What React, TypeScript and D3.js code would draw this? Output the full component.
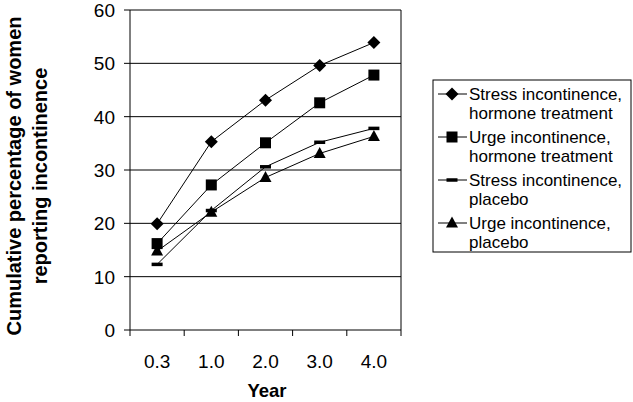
import React from 'react';
import * as d3 from 'd3';

const years = ['0.3', '1.0', '2.0', '3.0', '4.0'];
const stressHormone = [19.9, 35.3, 43.1, 49.6, 53.9];
const urgeHormone = [16.2, 27.2, 35.1, 42.6, 47.8];
const stressPlacebo = [12.3, 22.4, 30.6, 35.2, 37.8];
const urgePlacebo = [14.8, 22.1, 28.6, 33.1, 36.3];
const yTicks = [0, 10, 20, 30, 40, 50, 60];

type Marker = 'diamond' | 'square' | 'dash' | 'triangle';

const series: Array<{ label: [string, string]; values: number[]; marker: Marker }> = [
    { label: ['Stress incontinence,', 'hormone treatment'], values: stressHormone, marker: 'diamond' },
    { label: ['Urge incontinence,', 'hormone treatment'], values: urgeHormone, marker: 'square' },
    { label: ['Stress incontinence,', 'placebo'], values: stressPlacebo, marker: 'dash' },
    { label: ['Urge incontinence,', 'placebo'], values: urgePlacebo, marker: 'triangle' },
];

const FONT = '"Liberation Sans", Arial, sans-serif';

function MarkerShape({ type, x, y }: { type: Marker; x: number; y: number }) {
    if (type === 'diamond') {
        return <path d={`M${x},${y - 6.5}L${x + 6.5},${y}L${x},${y + 6.5}L${x - 6.5},${y}Z`} fill="#000" />;
    }
    if (type === 'square') {
        return <rect x={x - 5.5} y={y - 5.5} width={11} height={11} fill="#000" />;
    }
    if (type === 'dash') {
        return <rect x={x - 5.5} y={y - 1.75} width={11} height={3.5} fill="#000" />;
    }
    return <path d={`M${x},${y - 6.5}L${x + 6},${y + 4.5}L${x - 6},${y + 4.5}Z`} fill="#000" />;
}

export default function App() {
    const width = 633;
    const height = 402;
    const left = 130;
    const right = 401;
    const top = 10;
    const bottom = 330;

    const x = d3.scaleBand<string>().domain(years).range([left, right]);
    const y = d3.scaleLinear().domain([0, 60]).range([bottom, top]);
    const cx = (yr: string) => (x(yr) as number) + x.bandwidth() / 2;

    const line = d3
        .line<number>()
        .x((_, i) => cx(years[i]))
        .y(d => y(d));

    const legendX = 433;
    const legendY = 80;
    const rowH = 43;

    return (
        <svg
            width={width}
            height={height}
            style={{ position: 'absolute', left: 0, top: 0, background: '#fff' }}
            fontFamily={FONT}
        >
            {/* gridlines */}
            {yTicks.slice(1).map(t => (
                <line key={t} x1={left} x2={right} y1={y(t)} y2={y(t)} stroke="#000" strokeWidth={1} />
            ))}
            {/* frame */}
            <line x1={right} x2={right} y1={top} y2={bottom} stroke="#000" strokeWidth={1} />
            <line x1={left} x2={left} y1={top} y2={bottom} stroke="#000" strokeWidth={1} />
            <line x1={left} x2={right} y1={bottom} y2={bottom} stroke="#000" strokeWidth={1} />

            {/* y ticks */}
            {yTicks.map(t => (
                <g key={t}>
                    <line x1={left - 6} x2={left} y1={y(t)} y2={y(t)} stroke="#000" />
                    <text x={left - 15} y={y(t)} dy="0.36em" textAnchor="end" fontSize={19}>
                        {t}
                    </text>
                </g>
            ))}

            {/* x ticks */}
            {years.map(yr => (
                <g key={yr}>
                    <line
                        x1={(x(yr) as number) + x.bandwidth()}
                        x2={(x(yr) as number) + x.bandwidth()}
                        y1={bottom}
                        y2={bottom + 6}
                        stroke="#000"
                    />
                    <text x={cx(yr)} y={361} dy="0.36em" textAnchor="middle" fontSize={19}>
                        {yr}
                    </text>
                </g>
            ))}
            <line x1={left} x2={left} y1={bottom} y2={bottom + 6} stroke="#000" />

            {/* series */}
            {series.map(s => (
                <g key={s.label.join(' ')}>
                    <path d={line(s.values) || ''} fill="none" stroke="#000" strokeWidth={1} />
                    {s.values.map((v, i) => (
                        <MarkerShape key={i} type={s.marker} x={cx(years[i])} y={y(v)} />
                    ))}
                </g>
            ))}

            {/* axis titles */}
            <text x={267} y={390} dy="0.36em" textAnchor="middle" fontSize={18.5} fontWeight="bold">
                Year
            </text>
            <g transform={`translate(0, 176) rotate(-90)`}>
                <text x={0} y={14} dy="0.36em" textAnchor="middle" fontSize={20} fontWeight="bold">
                    Cumulative percentage of women
                </text>
                <text x={0} y={40} dy="0.36em" textAnchor="middle" fontSize={20} fontWeight="bold">
                    reporting incontinence
                </text>
            </g>

            {/* legend */}
            <rect x={legendX} y={legendY} width={198} height={172} fill="#fff" stroke="#000" strokeWidth={1} />
            {series.map((s, i) => {
                const ry = legendY + 14 + i * rowH;
                return (
                    <g key={s.label.join(' ')}>
                        <line x1={legendX + 5} x2={legendX + 34} y1={ry} y2={ry} stroke="#000" />
                        <MarkerShape type={s.marker} x={legendX + 19} y={ry} />
                        <text x={legendX + 36} y={ry} dy="0.36em" fontSize={17}>
                            {s.label[0]}
                        </text>
                        <text x={legendX + 36} y={ry + 19} dy="0.36em" fontSize={17}>
                            {s.label[1]}
                        </text>
                    </g>
                );
            })}
        </svg>
    );
}
